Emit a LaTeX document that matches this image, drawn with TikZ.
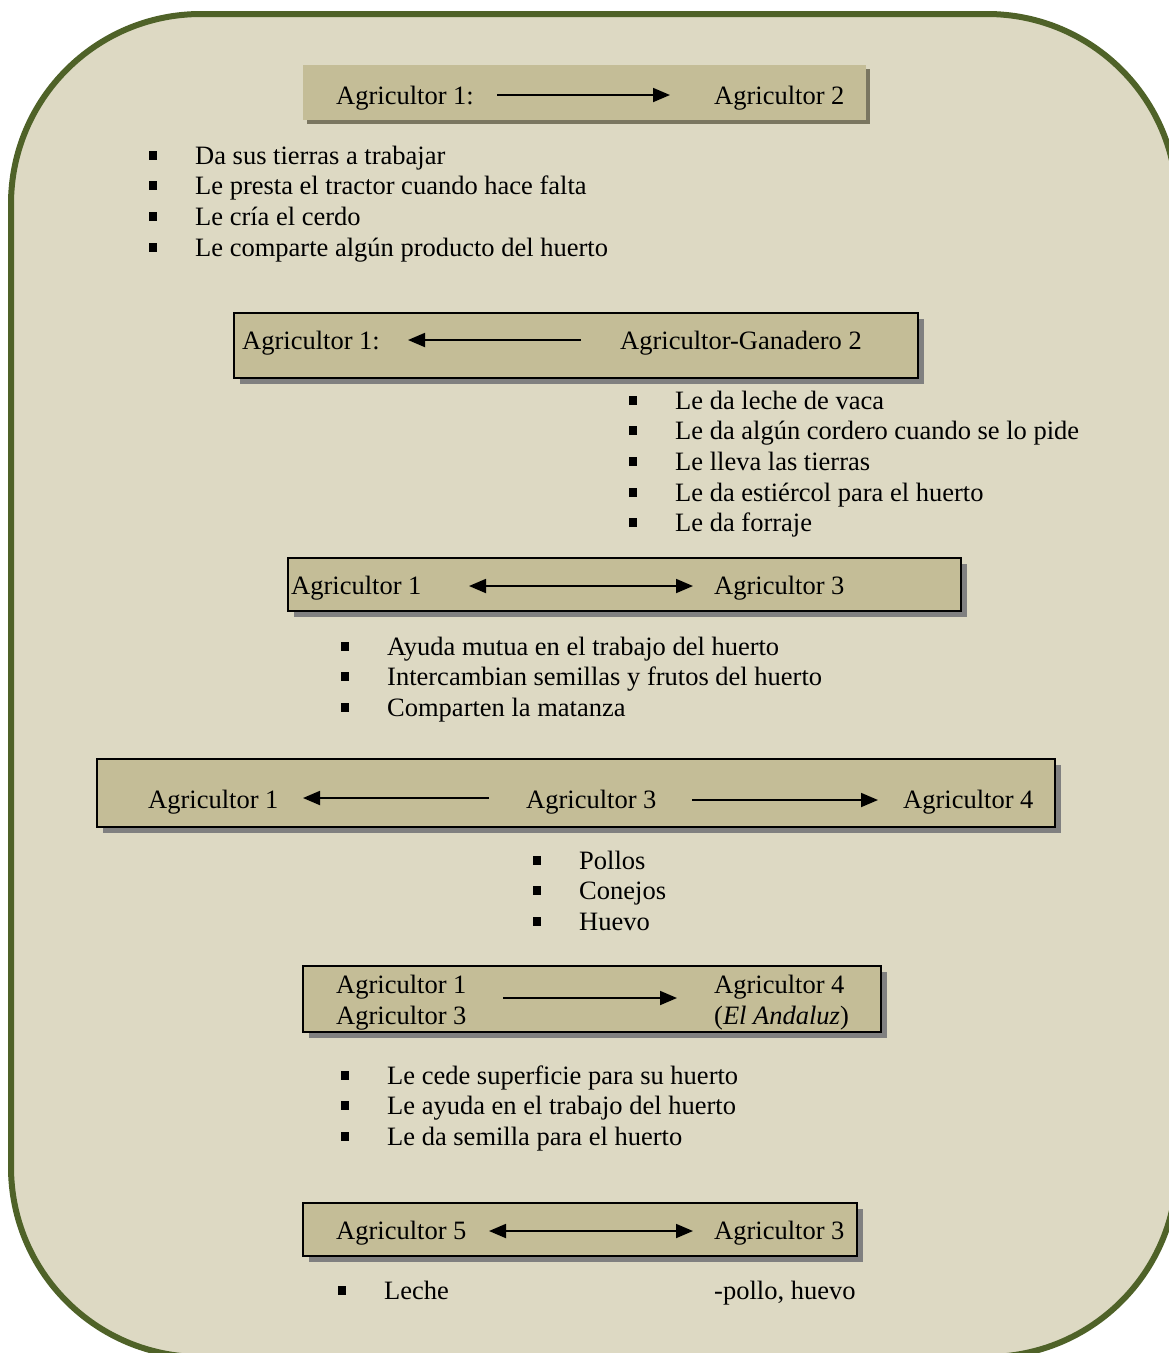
\documentclass[tikz,border=0pt]{standalone}
\usepackage{fontspec}
\setmainfont{Liberation Serif}
\usetikzlibrary{arrows.meta,shadows}

\definecolor{panelfill}{RGB}{221,217,195}
\definecolor{panelline}{RGB}{79,98,40}
\definecolor{boxfill}{RGB}{196,189,151}
\definecolor{boxshade}{RGB}{128,128,128}
\definecolor{softshade}{RGB}{122,118,96}

\tikzset{
  panel/.style={draw=panelline, line width=6pt, fill=panelfill, rounded corners=190pt},
  relbox/.style={rectangle, draw=black, line width=2.2pt, fill=boxfill, inner sep=0pt,
    drop shadow={shadow xshift=6pt, shadow yshift=-6pt, fill=boxshade, opacity=1}},
  plainbox/.style={rectangle, draw=none, fill=boxfill, inner sep=0pt,
    drop shadow={shadow xshift=4pt, shadow yshift=-4pt, fill=softshade, opacity=1}},
  lbl/.style={anchor=base west, inner sep=0pt, font=\fontsize{26.5}{30}\selectfont},
  sq/.style={rectangle, fill=black, inner sep=0pt, minimum width=8pt, minimum height=9pt},
  tip/.tip={Triangle[length=17pt,width=14pt]},
  link/.style={line width=1.8pt, -tip},
  biline/.style={line width=1.8pt, tip-tip}
}

\begin{document}
\begin{tikzpicture}[x=1pt,y=-1pt]
\useasboundingbox (0,0) rectangle (1169,1353);
\clip (0,0) rectangle (1169,1353);

% outer panel
\draw[panel] (11,14) rectangle (1177,1357);

% ---- relation 1: Agricultor 1 -> Agricultor 2
\node[plainbox, minimum width=563pt, minimum height=55pt] (box1) at (584.5,92.5) {};
\node[lbl] (a1l) at (336,104) {Agricultor 1:};
\node[lbl] (a1r) at (714,104) {Agricultor 2};
\coordinate (a1s) at (497,95);
\coordinate (a1e) at (670,95);
\draw[link] (a1s) -- (a1e);

\foreach \t [count=\i] in {Da sus tierras a trabajar,
  Le presta el tractor cuando hace falta,
  Le cría el cerdo,
  Le comparte algún producto del huerto}{
  \node[sq] (s1\i) at (153,{155+30.7*(\i-1)}) {};
  \node[lbl] (t1\i) at (195,{164+30.7*(\i-1)}) {\t};
}

% ---- relation 2: Agricultor-Ganadero 2 -> Agricultor 1
\node[relbox, minimum width=684pt, minimum height=65pt] (box2) at (576,345.5) {};
\node[lbl] (a2l) at (242,349) {Agricultor 1:};
\node[lbl] (a2r) at (620,349) {Agricultor-Ganadero 2};
\coordinate (a2s) at (581,340);
\coordinate (a2e) at (408,340);
\draw[link] (a2s) -- (a2e);

\foreach \t [count=\i] in {Le da leche de vaca,
  Le da algún cordero cuando se lo pide,
  Le lleva las tierras,
  Le da estiércol para el huerto,
  Le da forraje}{
  \node[sq] (s2\i) at (633,{400+30.7*(\i-1)}) {};
  \node[lbl] (t2\i) at (675,{409+30.7*(\i-1)}) {\t};
}

% ---- relation 3: Agricultor 1 <-> Agricultor 3
\node[relbox, minimum width=673pt, minimum height=53pt] (box3) at (624.5,584.5) {};
\node[lbl] (a3l) at (291,594) {Agricultor 1};
\node[lbl] (a3r) at (714,594) {Agricultor 3};
\coordinate (a3s) at (469,586);
\coordinate (a3e) at (693,586);
\draw[biline] (a3s) -- (a3e);

\foreach \t [count=\i] in {Ayuda mutua en el trabajo del huerto,
  Intercambian semillas y frutos del huerto,
  Comparten la matanza}{
  \node[sq] (s3\i) at (345,{646+30.7*(\i-1)}) {};
  \node[lbl] (t3\i) at (387,{655+30.7*(\i-1)}) {\t};
}

% ---- relation 4: Agricultor 3 -> Agricultor 1 and Agricultor 4
\node[relbox, minimum width=958pt, minimum height=68pt] (box4) at (576,793) {};
\node[lbl] (a4l) at (148,808) {Agricultor 1};
\node[lbl] (a4m) at (526,808) {Agricultor 3};
\node[lbl] (a4r) at (903,808) {Agricultor 4};
\coordinate (a4s1) at (489,798);
\coordinate (a4e1) at (303,798);
\coordinate (a4s2) at (692,800);
\coordinate (a4e2) at (878,800);
\draw[link] (a4s1) -- (a4e1);
\draw[link] (a4s2) -- (a4e2);

\foreach \t [count=\i] in {Pollos, Conejos, Huevo}{
  \node[sq] (s4\i) at (537,{860+30.7*(\i-1)}) {};
  \node[lbl] (t4\i) at (579,{869+30.7*(\i-1)}) {\t};
}

% ---- relation 5: Agricultor 1 and 3 -> Agricultor 4
\node[relbox, minimum width=578pt, minimum height=66pt] (box5) at (592,999) {};
\node[lbl] (a5l1) at (336,993) {Agricultor 1};
\node[lbl] (a5l2) at (336,1024) {Agricultor 3};
\node[lbl] (a5r1) at (714,993) {Agricultor 4};
\node[lbl] (a5r2) at (714,1024) {(\textit{El Andaluz})};
\coordinate (a5s) at (503,998);
\coordinate (a5e) at (677,998);
\draw[link] (a5s) -- (a5e);

\foreach \t [count=\i] in {Le cede superficie para su huerto,
  Le ayuda en el trabajo del huerto,
  Le da semilla para el huerto}{
  \node[sq] (s5\i) at (345,{1075+30.7*(\i-1)}) {};
  \node[lbl] (t5\i) at (387,{1084+30.7*(\i-1)}) {\t};
}

% ---- relation 6: Agricultor 5 <-> Agricultor 3
\node[relbox, minimum width=554pt, minimum height=53pt] (box6) at (580,1229.5) {};
\node[lbl] (a6l) at (336,1239) {Agricultor 5};
\node[lbl] (a6r) at (714,1239) {Agricultor 3};
\coordinate (a6s) at (489,1231);
\coordinate (a6e) at (693,1231);
\draw[biline] (a6s) -- (a6e);

\node[sq] (s61) at (342,1290) {};
\node[lbl] (t61) at (384,1299) {Leche};
\node[lbl] (t62) at (714,1299) {-pollo, huevo};

\end{tikzpicture}
\end{document}
